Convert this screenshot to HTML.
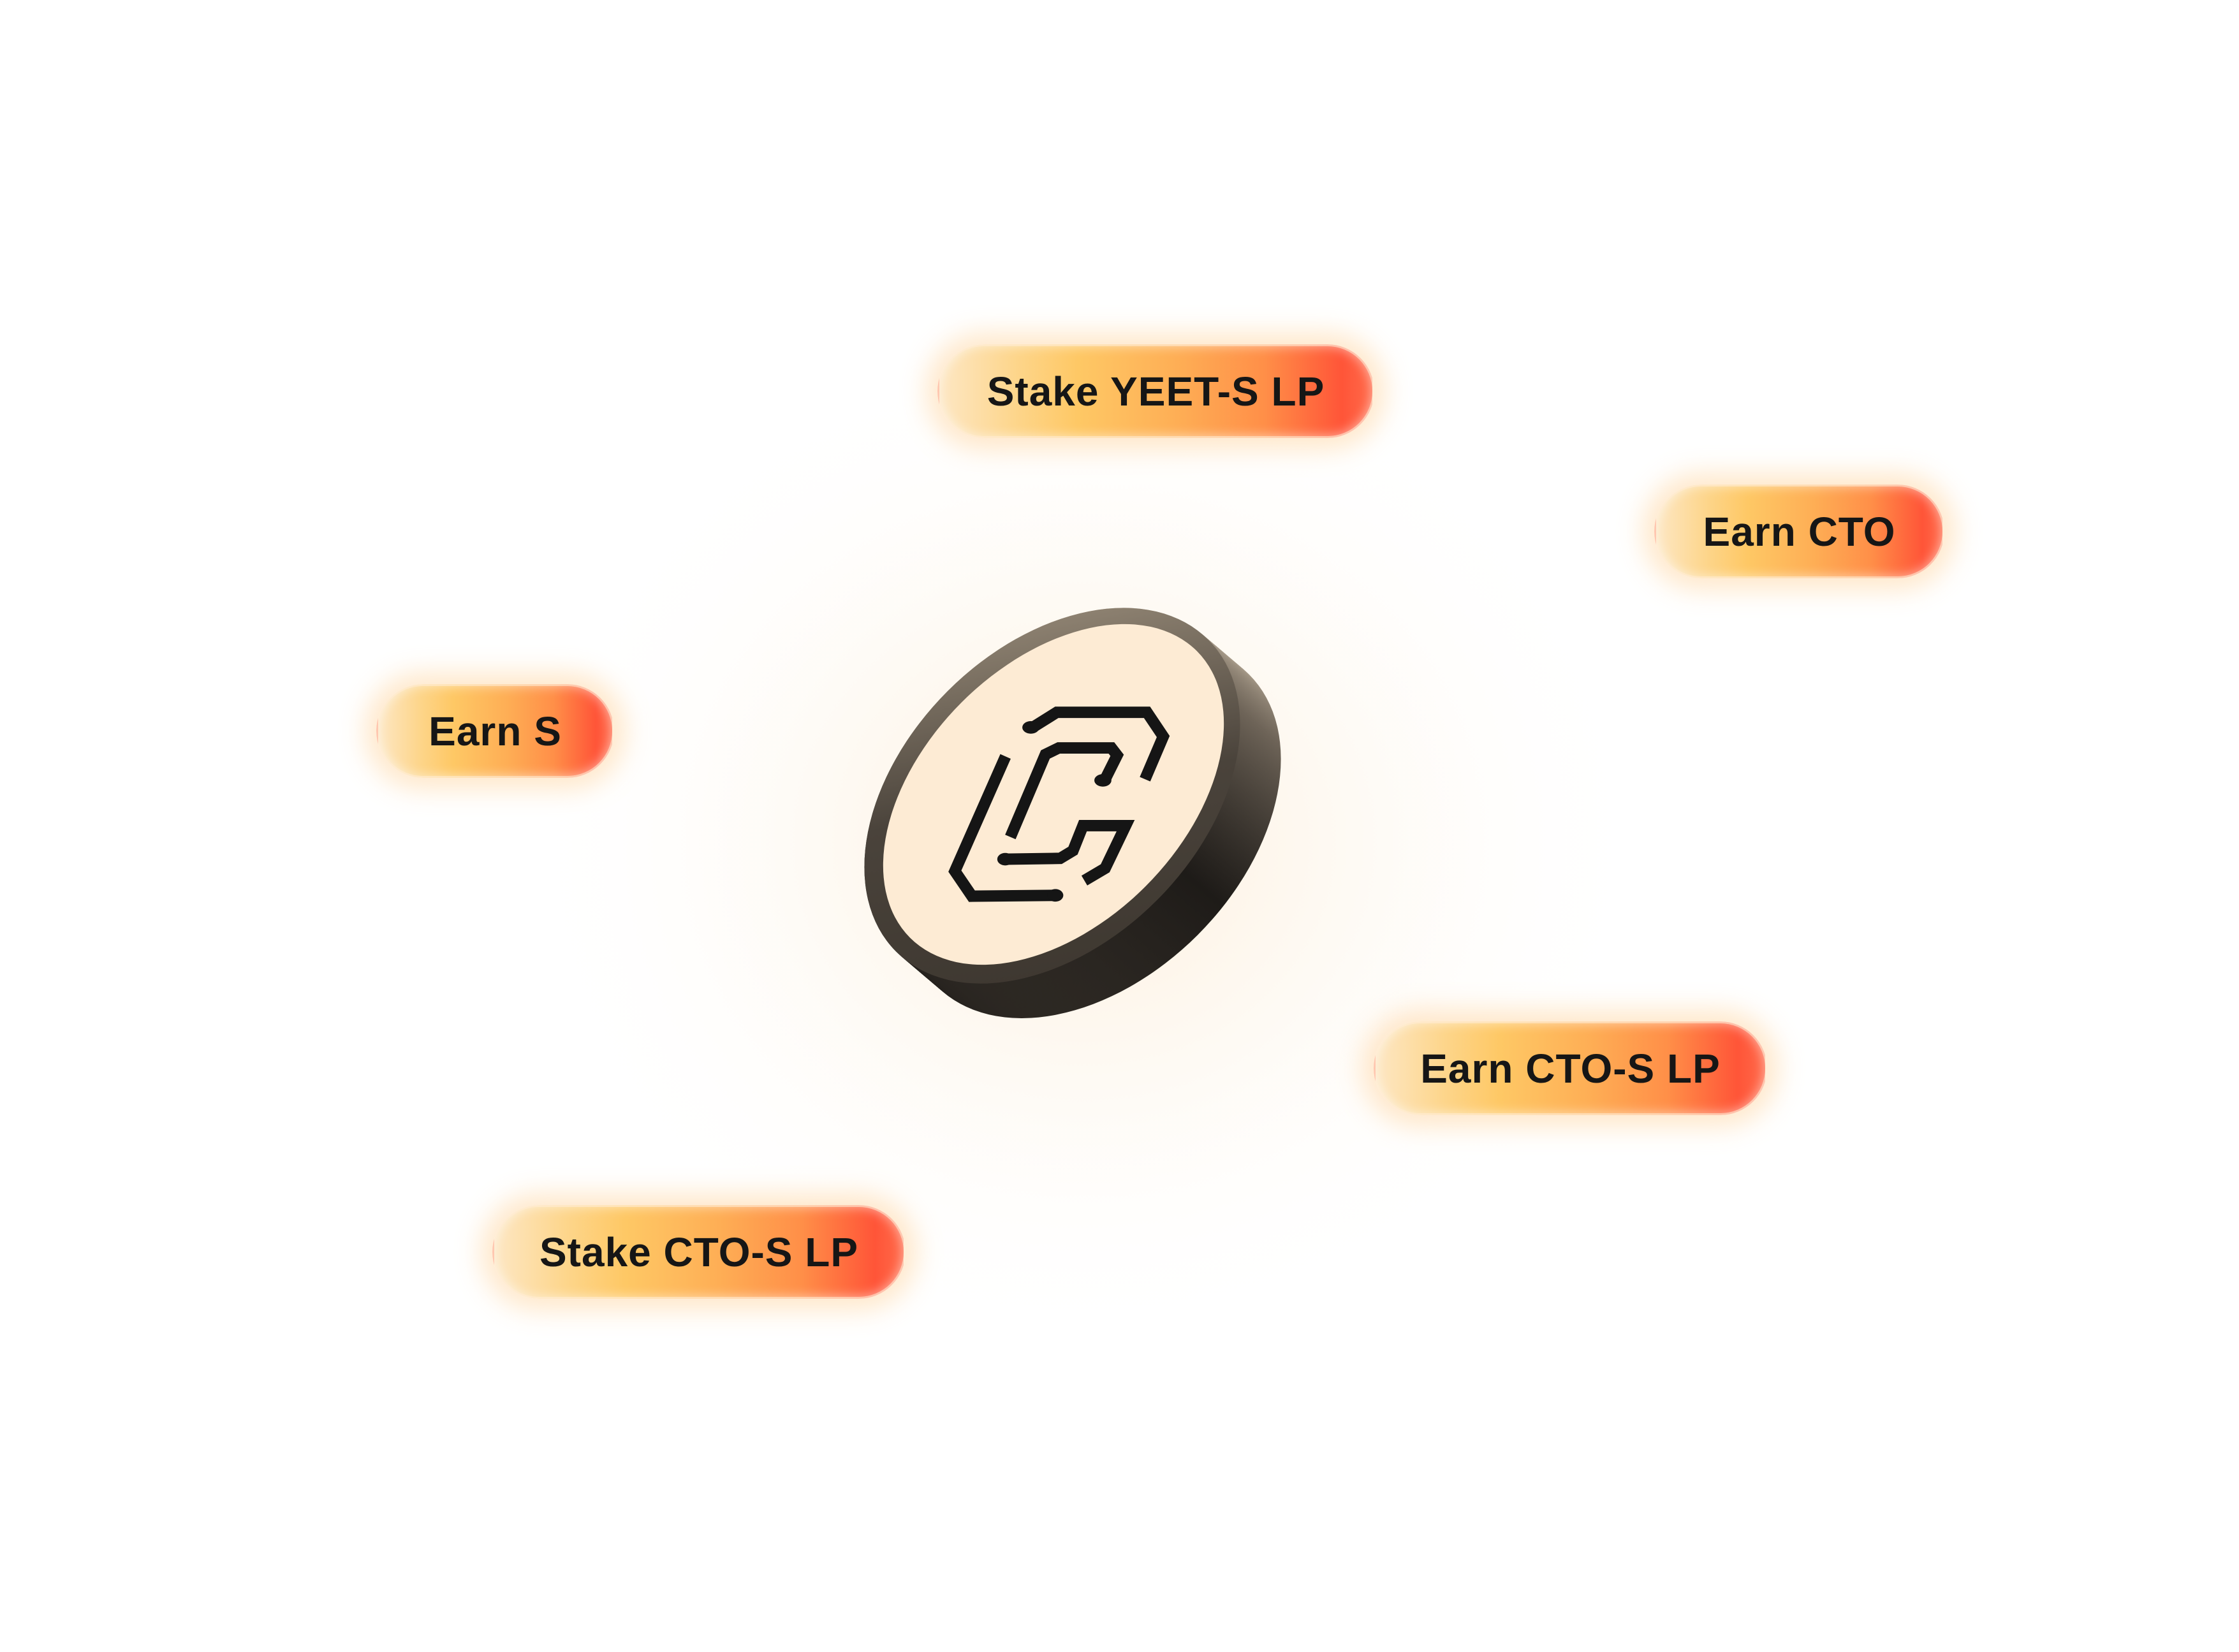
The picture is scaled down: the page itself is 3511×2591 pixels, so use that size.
<!DOCTYPE html>
<html><head><meta charset="utf-8"><style>
html,body{margin:0;padding:0;background:#fff;}
body{width:3511px;height:2591px;position:relative;overflow:hidden;font-family:"Liberation Sans","DejaVu Sans",sans-serif;}
.pill{position:absolute;height:147px;border-radius:74px;box-sizing:border-box;
background:linear-gradient(90deg,#fde7c4 0%,#fdd58a 18%,#fec865 32%,#feae55 55%,#ff8f48 75%,#ff5538 93%,#ff6a4a 100%);
box-shadow:0 0 40px 18px rgba(255,205,140,0.45),inset 0 0 18px rgba(255,255,255,0.55);
border:3px solid rgba(255,240,220,0.7);
display:flex;align-items:center;justify-content:center;color:#161616;font-size:64px;font-weight:bold;letter-spacing:1px;}
</style></head><body>
<svg width="3511" height="2591" style="position:absolute;left:0;top:0">
<defs>
<radialGradient id="glow" cx="0.5" cy="0.5" r="0.5">
<stop offset="0" stop-color="#fde3c0" stop-opacity="0.6"/>
<stop offset="0.5" stop-color="#fdf0de" stop-opacity="0.3"/>
<stop offset="1" stop-color="#fff" stop-opacity="0"/>
</radialGradient>
<linearGradient id="side" x1="0" y1="1" x2="1" y2="0">
<stop offset="0" stop-color="#3a342d"/>
<stop offset="0.3" stop-color="#1e1b18"/>
<stop offset="0.6" stop-color="#6e6458"/>
<stop offset="0.85" stop-color="#cbbda8"/>
<stop offset="1" stop-color="#8a7f70"/>
</linearGradient>
<linearGradient id="rim" x1="0" y1="1" x2="1" y2="0">
<stop offset="0" stop-color="#3a342d"/>
<stop offset="0.5" stop-color="#4a433b"/>
<stop offset="1" stop-color="#a89a86"/>
</linearGradient>
</defs>
<ellipse cx="1700" cy="1320" rx="900" ry="800" fill="url(#glow)"/>
<g>
<g id="body"></g>
<ellipse cx="1650" cy="1248" rx="346" ry="232" transform="rotate(-45 1650 1248)" fill="url(#rim)"/>
<ellipse cx="1652" cy="1246" rx="318" ry="204" transform="rotate(-45 1652 1246)" fill="#fdebd4"/>
<g transform="translate(1350,940) scale(0.4464)" fill="none" stroke="#151515" stroke-width="40" stroke-linejoin="miter">
<polyline points="600,452 688,397 1005,397 1062,482 998,632"/>
<polyline points="508,552 330,955 390,1043 690,1040"/>
<polyline points="525,835 648,545 695,522 880,522 900,548 858,632"/>
<polyline points="505,913 700,910 745,883 780,795 930,795 858,945 785,988"/>
<g fill="#151515" stroke="none">
<ellipse cx="597" cy="450" rx="30" ry="22"/>
<ellipse cx="850" cy="636" rx="30" ry="22"/>
<ellipse cx="507" cy="913" rx="28" ry="22"/>
<ellipse cx="683" cy="1040" rx="28" ry="22"/>
</g>
</g>
</g>
</svg>
<div class="pill" style="left:1470px;top:540px;width:685px;">Stake YEET-S LP</div>
<div class="pill" style="left:2594px;top:760px;width:455px;">Earn CTO</div>
<div class="pill" style="left:590px;top:1073px;width:373px;">Earn S</div>
<div class="pill" style="left:2154px;top:1602px;width:617px;">Earn CTO-S LP</div>
<div class="pill" style="left:772px;top:1890px;width:648px;">Stake CTO-S LP</div>
<script>
var g=document.getElementById('body');
for(var i=64;i>=0;i-=2){
var e=document.createElementNS('http://www.w3.org/2000/svg','ellipse');
var cx=1650+i, cy=1248+i*0.85;
e.setAttribute('cx',cx);e.setAttribute('cy',cy);e.setAttribute('rx',346);e.setAttribute('ry',232);
e.setAttribute('transform','rotate(-45 '+cx+' '+cy+')');
e.setAttribute('fill','url(#side)');
g.appendChild(e);
}
</script>
</body></html>
